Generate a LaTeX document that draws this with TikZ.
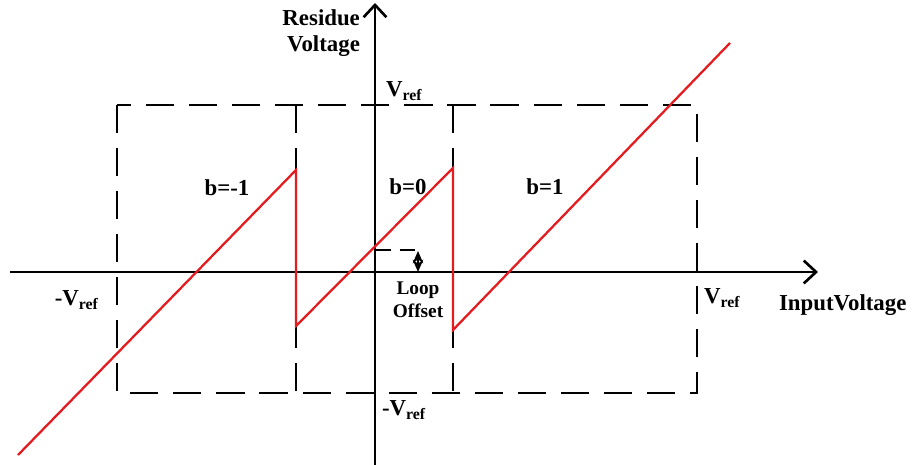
\documentclass[tikz,border=0pt]{standalone}
\usepackage{fontspec}
\setmainfont{Liberation Serif}
\usetikzlibrary{positioning,arrows.meta}
\definecolor{curvered}{RGB}{228,28,32}
\newcommand{\Vr}{V\raisebox{-0.45ex}{\fontsize{9}{9}\selectfont ref}}

\begin{document}
\begin{tikzpicture}[x=0.02cm,y=-0.02cm,
  lbl/.style={font=\fontsize{13}{15}\selectfont\bfseries,inner sep=1pt},
  axis/.style={line width=1.5pt,-{Straight Barb[length=7pt,width=13pt,line width=1.5pt]}},
  region/.style={line width=1.7pt,dash pattern=on 16pt off 8.5pt},
  transfer/.style={curvered,line width=1.3pt}]
 \useasboundingbox (0,0) rectangle (917,465);

 % region boxes
 \draw[region] (117,105) rectangle (697,393);
 \draw[region] (296,105) -- (296,393);
 \draw[region] (453,105) -- (453,393);

 % axes
 \coordinate (xL) at (10,272);  \coordinate (xR) at (818,272);
 \coordinate (yB) at (375,465); \coordinate (yT) at (375,3);
 \draw[axis] (xL) -- (xR);
 \draw[axis] (yB) -- (yT);

 % residue curve
 \draw[transfer] (18,455) -- (296,170) -- (296,326) -- (453,168) -- (453,330) -- (730,43);

 % loop offset
 \coordinate (off) at (375,250);
 \draw[line width=1.3pt,dash pattern=on 9pt off 5pt] (off) -| (418,258);
 \draw[line width=1.1pt,{Stealth[length=7pt,width=6pt]}-{Stealth[length=7pt,width=6pt]}] (418,251) -- (418,272);

 \node[lbl,name=ResV,align=right,anchor=east] at (362,33) {Residue\\Voltage};
 \node[lbl,name=InV,anchor=west]  at (777,305) {InputVoltage};
 \node[lbl,name=VrT,anchor=west]  at (384,91)  {\Vr};
 \node[lbl,name=VrB,anchor=west]  at (380,410) {-\Vr};
 \node[lbl,name=VrL,anchor=east]  at (100,300) {-\Vr};
 \node[lbl,name=VrR,anchor=west]  at (702,298) {\Vr};
 \node[lbl,name=bM1] at (227,188) {b=-1};
 \node[lbl,name=bZ]  at (408,187) {b=0};
 \node[lbl,name=bP1] at (545,187) {b=1};
 \node[lbl,name=LO,align=center,font=\fontsize{11}{13}\selectfont\bfseries] at (418,300) {Loop\\Offset};
\end{tikzpicture}
\end{document}
